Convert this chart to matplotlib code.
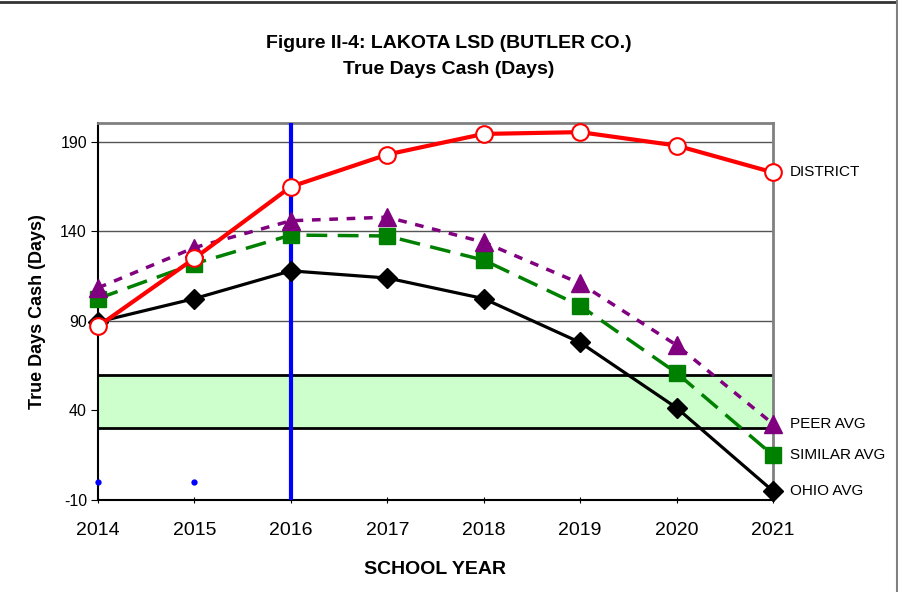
import matplotlib
matplotlib.use("Agg")
import matplotlib.pyplot as plt
from matplotlib.lines import Line2D

years = [2014, 2015, 2016, 2017, 2018, 2019, 2020, 2021]
district = [87, 125, 165, 183, 194.5, 195.5, 188, 173]
peer_avg = [108.5, 131, 146, 148, 134, 111, 76.5, 32.5]
similar_avg = [102.5, 122, 138, 137.5, 124, 98.5, 61, 15]
ohio_avg = [89.5, 102.5, 118, 114, 102.5, 78, 41.5, -5]
marker_years = [2014, 2015]
marker_vals = [0, 0]
band_low, band_high = 30, 60
current_year = 2016
yticks = [-10, 40, 90, 140, 190]

plt.rcParams['font.family'] = ['Liberation Sans', 'DejaVu Sans']
plt.rcParams['axes.unicode_minus'] = False

fig = plt.figure(figsize=(8.98, 5.92), dpi=100)
ax = fig.add_axes([98/898, 1-500/592, 675/898, 377/592])

ax.set_xlim(2014, 2021)
ax.set_ylim(-10, 200.6)

ax.axhspan(band_low, band_high, facecolor='#CCFFCC', edgecolor='none', zorder=1)
ax.axhline(band_low, color='black', lw=2, zorder=2)
ax.axhline(band_high, color='black', lw=2, zorder=2)

ax.set_yticks(yticks)
ax.set_xticks(years)
ax.yaxis.grid(True, color='#555555', lw=1, zorder=1.5)
ax.set_axisbelow(True)

ax.axvline(current_year, color='#0000FF', lw=3, zorder=3)
ax.plot(marker_years, marker_vals, 'o', color='#0000FF', ms=3.5, zorder=3, clip_on=False)

ax.plot(years, ohio_avg, color='black', lw=2.3, marker='D', ms=10, zorder=4, clip_on=False)
ax.plot(years, similar_avg, color='#008000', lw=2.5, dashes=(6, 3), marker='s', ms=12,
        zorder=5, clip_on=False)
ax.plot(years, peer_avg, color='#800080', lw=2.5, dashes=(2.5, 2.5), marker='^', ms=13,
        zorder=6, clip_on=False)
ax.plot(years, district, color='#FF0000', lw=3, marker='o', ms=12, mfc='white',
        mec='#FF0000', mew=1.5, zorder=7, clip_on=False)

for val, lab in [(district[-1], 'DISTRICT'), (peer_avg[-1], 'PEER AVG'),
                 (similar_avg[-1], 'SIMILAR AVG'), (ohio_avg[-1], 'OHIO AVG')]:
    ax.annotate(lab, (years[-1], val), xytext=(12, 0), textcoords='offset points',
                va='center', ha='left', fontsize=11, color='black', annotation_clip=False)

for s in ['left', 'bottom']:
    ax.spines[s].set_color('black')
    ax.spines[s].set_linewidth(1.5)
for s in ['top', 'right']:
    ax.spines[s].set_color('#808080')
    ax.spines[s].set_linewidth(2)

ax.tick_params(axis='y', labelsize=11.5, length=5, color='black', pad=3)
ax.tick_params(axis='x', labelsize=14, length=5, color='black', pad=13, direction='inout')

ax.set_ylabel('True Days Cash (Days)', fontsize=13, fontweight='bold', labelpad=10)
ax.set_xlabel('SCHOOL YEAR', fontsize=14, fontweight='bold', labelpad=16)

fig.text(0.5, 1-43/592, 'Figure II-4: LAKOTA LSD (BUTLER CO.)', ha='center', va='center',
         fontsize=14, fontweight='bold')
fig.text(0.5, 1-70/592, 'True Days Cash (Days)', ha='center', va='center',
         fontsize=14, fontweight='bold')

fig.add_artist(Line2D([0, 1], [1-1.5/592, 1-1.5/592], color='#333333', lw=2, transform=fig.transFigure))
fig.add_artist(Line2D([1-1.5/898, 1-1.5/898], [0, 1], color='#808080', lw=1.5, transform=fig.transFigure))

fig.savefig('out.png', dpi=100)
